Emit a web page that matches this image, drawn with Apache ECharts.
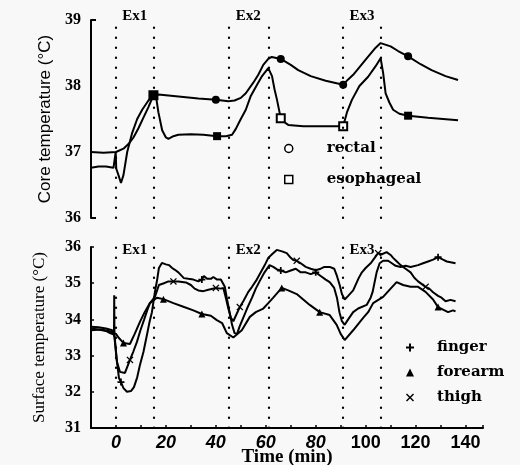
<!DOCTYPE html>
<html>
<head>
<meta charset="utf-8">
<script src="https://cdn.jsdelivr.net/npm/echarts@6/dist/echarts.min.js"></script>
<style>
html, body { margin: 0; padding: 0; background: #f8f8f8; }
#chart { width: 520px; height: 465px; }
</style>
</head>
<body>
<div id="chart"></div>
<script>
// exercise bouts (min)
const exNames = ['Ex1', 'Ex2', 'Ex3']
const exStart = [0, 45, 91]
const exEnd = [15, 61, 106]

// x axis labels
const xTicks = [0, 20, 40, 60, 80, 100, 120, 140]

// core temperature (°C)
const rectalT = [-10, -5, 0, 3, 5, 7, 9, 11, 13, 15, 17, 25, 33, 40, 45, 47.5, 50, 52, 55, 57, 59, 61, 62.4, 66, 70, 73, 78, 84, 91, 93, 95, 100, 104, 106, 110, 113, 117, 122, 126.4, 132, 137]
const rectalV = [37.0, 36.99, 37.0, 37.05, 37.12, 37.22, 37.36, 37.52, 37.68, 37.86, 37.87, 37.84, 37.81, 37.79, 37.77, 37.78, 37.82, 37.89, 38.05, 38.17, 38.32, 38.41, 38.44, 38.41, 38.32, 38.24, 38.15, 38.08, 38.02, 38.1, 38.17, 38.4, 38.58, 38.65, 38.6, 38.53, 38.45, 38.33, 38.24, 38.15, 38.09]
const rectalMarks = [40, 66, 91, 117]

const esoT = [-10, -7, -4, -1, -0.3, -0.1, 0.1, 1, 2, 3, 4.5, 6.5, 8.5, 10.5, 13, 15, 16, 17, 18.5, 20, 21, 23, 25, 30, 35, 40.5, 44, 46.5, 48, 50, 52, 54, 56.5, 58.5, 61, 62.5, 63.5, 64.5, 66, 67.5, 69, 75, 85, 91, 92.5, 94.5, 97.5, 101, 104, 106, 107, 108, 109.5, 111, 113.5, 117, 125, 131, 137]
const esoV = [36.76, 36.78, 36.78, 36.76, 36.76, 37.0, 36.75, 36.65, 36.53, 36.65, 37.0, 37.29, 37.5, 37.64, 37.78, 37.86, 37.85, 37.6, 37.33, 37.22, 37.2, 37.24, 37.26, 37.27, 37.26, 37.24, 37.24, 37.26, 37.35, 37.5, 37.64, 37.85, 38.02, 38.15, 38.27, 38.15, 37.95, 37.79, 37.51, 37.45, 37.41, 37.39, 37.39, 37.39, 37.6, 37.79, 38.0, 38.14, 38.3, 38.42, 38.2, 37.89, 37.75, 37.64, 37.58, 37.55, 37.52, 37.5, 37.48]
const esoMarks = [15, 40.5, 66, 91, 117]
const esoHollow = [66, 91]

// surface temperature (°C)
const fingerT = [-10, -7, -4, -2.4, -0.8, -0.7, -0.6, 0.2, 1.2, 2, 3, 4.4, 6, 7.2, 8.5, 9.6, 11, 12.4, 13.5, 14.4, 15.6, 16.5, 17.2, 18.4, 20, 21.2, 22.5, 23.6, 25, 27.2, 29, 31, 33, 34.4, 35.2, 36.5, 38, 39, 40.5, 42, 43.6, 44.5, 45.5, 46.5, 47.5, 48.5, 49.5, 51, 52.5, 54.5, 56, 57.5, 59.5, 61.5, 63, 64.5, 66, 68, 70, 72, 74, 76, 78, 80, 82, 84, 85.6, 87.4, 88.5, 89.5, 90.5, 91.6, 93, 95, 97, 100.4, 102, 102.8, 103.5, 104.4, 105.6, 107, 109, 110.5, 112, 114, 116, 118, 121, 123, 125, 127, 129, 131, 132.5, 134, 136]
const fingerV = [33.75, 33.72, 33.68, 33.62, 33.58, 34.67, 33.5, 32.95, 32.38, 32.27, 32.1, 32.0, 32.02, 32.13, 32.4, 32.74, 33.1, 33.57, 33.95, 34.2, 34.76, 35.1, 35.42, 35.56, 35.52, 35.5, 35.42, 35.37, 35.3, 35.14, 35.12, 35.1, 35.05, 35.1, 35.2, 35.12, 35.12, 35.17, 35.1, 35.1, 34.9, 34.55, 34.2, 33.85, 33.62, 33.6, 33.8, 34.05, 34.3, 34.6, 34.85, 35.05, 35.3, 35.5, 35.45, 35.38, 35.35, 35.3, 35.35, 35.4, 35.3, 35.3, 35.25, 35.3, 35.2, 35.1, 35.03, 34.87, 34.6, 34.2, 33.95, 33.85, 34.0, 34.2, 34.3, 34.4, 34.6, 34.76, 35.0, 35.3, 35.55, 35.62, 35.62, 35.55, 35.48, 35.45, 35.48, 35.45, 35.5, 35.55, 35.6, 35.65, 35.72, 35.65, 35.6, 35.58, 35.55]
const fingerMarks = [2, 34.4, 66, 80, 129]

const forearmT = [-10, -6, -3, 0, 1, 3, 5.6, 7.5, 9.6, 11.5, 13.6, 16.4, 19, 23, 27, 31, 34.4, 38, 40.4, 42.5, 44.4, 47, 50.4, 53.6, 56, 59, 61, 63, 66.4, 69, 72.4, 75, 77.6, 81.6, 85.6, 88.4, 90, 91.6, 95, 99, 101, 103, 107, 110, 112.4, 115, 118, 121, 124, 127, 129, 133, 135, 136]
const forearmV = [33.7, 33.72, 33.68, 33.6, 33.5, 33.35, 33.32, 33.6, 33.93, 34.2, 34.45, 34.6, 34.56, 34.45, 34.35, 34.25, 34.15, 34.1, 33.98, 33.9, 33.62, 33.5, 33.7, 34.07, 34.2, 34.3, 34.45, 34.6, 34.87, 34.8, 34.7, 34.55, 34.4, 34.2, 34.12, 33.85, 33.6, 33.43, 33.7, 34.04, 34.2, 34.45, 34.62, 34.85, 35.03, 34.95, 34.9, 34.9, 34.76, 34.55, 34.34, 34.2, 34.25, 34.22]
const forearmMarks = [3, 19, 34.4, 66.4, 81.6, 129]

const thighT = [-10, -7, -4, -1.5, -0.5, 0.4, 1.6, 3.6, 5.6, 7, 8.4, 9.8, 11.2, 12.5, 13.6, 15.6, 17.2, 19.2, 21, 23, 25, 28, 30, 31.5, 33, 35, 37, 40, 42, 43, 44, 45, 46, 47, 48, 49.6, 51, 53, 54.5, 56.4, 58, 59.6, 61, 62.5, 64.4, 66.5, 68.4, 70, 71, 72.4, 74, 76, 78, 80, 82, 83.5, 85.6, 87.4, 88.5, 89.6, 90.5, 91.6, 93, 95, 97.2, 98.5, 100, 102, 103.6, 105, 106.5, 108.4, 110, 111, 112.5, 114, 116, 118, 119.5, 121, 124, 125.5, 127, 129, 130.4, 132, 134, 136]
const thighV = [33.8, 33.78, 33.75, 33.7, 33.5, 32.82, 32.55, 32.52, 32.88, 33.12, 33.38, 33.7, 33.98, 34.25, 34.45, 34.62, 34.95, 35.0, 35.05, 35.05, 35.05, 35.02, 34.95, 34.85, 34.8, 34.78, 34.82, 34.87, 34.85, 34.87, 34.6, 34.3, 34.05, 33.95, 34.1, 34.34, 34.5, 34.76, 34.9, 35.1, 35.3, 35.5, 35.7, 35.8, 35.92, 35.88, 35.83, 35.7, 35.64, 35.62, 35.55, 35.45, 35.4, 35.36, 35.4, 35.45, 35.45, 35.4, 35.2, 34.95, 34.7, 34.55, 34.65, 34.8, 35.14, 35.3, 35.42, 35.55, 35.7, 35.83, 35.8, 35.86, 35.78, 35.7, 35.6, 35.5, 35.4, 35.3, 35.15, 35.05, 34.9, 34.85, 34.75, 34.65, 34.6, 34.5, 34.54, 34.5]
const thighMarks = [5.6, 23, 40, 49.6, 72.4, 105, 124]

const plusPath = 'path://M3,0H5V3H8V5H5V8H3V5H0V3H3Z'
const crossPath = 'path://M0,1L1,0L4,3L7,0L8,1L5,4L8,7L7,8L4,5L1,8L0,7L3,4Z'

const chart = echarts.init(document.getElementById('chart'))

function pairs (t, v) {
  return t.map((x, i) => [x, v[i]])
}

// plain black line, symbols only at the marked times
function lineSeries (name, t, v, marks, symbol, gridIdx, size) {
  return {
    name: name,
    type: 'line',
    xAxisIndex: gridIdx,
    yAxisIndex: gridIdx,
    data: pairs(t, v),
    symbol: symbol,
    symbolSize: val => (marks.indexOf(val[0]) >= 0 ? size : 0),
    showSymbol: true,
    lineStyle: { color: '#000', width: 2 },
    itemStyle: { color: '#000' },
    emphasis: { disabled: true },
    silent: true,
    z: 3
  }
}

// dotted verticals + Ex labels for one grid
function exMarks (labelDist) {
  return {
    markLine: {
      silent: true,
      symbol: 'none',
      label: { show: false },
      lineStyle: { color: '#000', type: [0.5, 9.5], width: 2.2, cap: 'round' },
      data: exStart.concat(exEnd).map(x => ({ xAxis: x }))
    },
    markArea: {
      silent: true,
      itemStyle: { color: 'transparent' },
      label: {
        show: true,
        position: 'top',
        distance: labelDist,
        formatter: '{b}',
        fontFamily: 'Liberation Serif',
        fontWeight: 'bold',
        fontSize: 15,
        color: '#000'
      },
      data: exNames.map((n, i) => [{ name: n, xAxis: exStart[i] }, { xAxis: exEnd[i] }])
    }
  }
}

const rectal = Object.assign(lineSeries('rectal', rectalT, rectalV, rectalMarks, 'circle', 0, 8), exMarks(-4))
const eso = lineSeries('esophageal', esoT, esoV, esoMarks, 'rect', 0, 8)
eso.symbolSize = val => (esoMarks.indexOf(val[0]) < 0 ? 0 : (val[0] === 15 ? 10 : 8))
eso.data = esoT.map((x, i) => ({
  value: [x, esoV[i]],
  itemStyle: esoHollow.indexOf(x) >= 0 ? { color: '#fff', borderColor: '#000', borderWidth: 2 } : undefined
}))

const finger = Object.assign(lineSeries('finger', fingerT, fingerV, fingerMarks, plusPath, 1, 7), exMarks(-11))
const forearm = lineSeries('forearm', forearmT, forearmV, forearmMarks, 'triangle', 1, 7)
const thigh = lineSeries('thigh', thighT, thighV, thighMarks, crossPath, 1, 7)

const tickFont = { fontFamily: 'Liberation Serif', fontWeight: 'bold', fontSize: 16, color: '#000' }
const legendText = { fontFamily: 'DejaVu Serif', fontWeight: 'bold', fontSize: 15, color: '#000' }

const option = {
  backgroundColor: '#f8f8f8',
  animation: false,
  grid: [
    { left: 91, top: 20, width: 392, height: 198, containLabel: false, outerBoundsMode: 'none' },
    { left: 91, top: 247, width: 392, height: 181, containLabel: false, outerBoundsMode: 'none' }
  ],
  legend: [
    {
      left: 279,
      top: 136,
      orient: 'vertical',
      selectedMode: false,
      itemWidth: 8,
      itemHeight: 8,
      itemGap: 16,
      textStyle: Object.assign({ padding: [0, 0, 0, 29] }, legendText),
      data: [
        { name: 'rectal', icon: 'circle', itemStyle: { color: '#fff', borderColor: '#000', borderWidth: 1.5 } },
        { name: 'esophageal', icon: 'rect', itemStyle: { color: '#fff', borderColor: '#000', borderWidth: 1.5 } }
      ]
    },
    {
      left: 401,
      top: 335,
      orient: 'vertical',
      selectedMode: false,
      itemWidth: 8,
      itemHeight: 8,
      itemGap: 10,
      textStyle: Object.assign({ padding: [0, 0, 0, 18] }, legendText),
      data: [
        { name: 'finger', icon: plusPath },
        { name: 'forearm', icon: 'triangle' },
        { name: 'thigh', icon: crossPath }
      ]
    }
  ],
  xAxis: [
    { gridIndex: 0, type: 'value', min: -10, max: 147, show: false },
    {
      gridIndex: 1,
      type: 'value',
      min: -10,
      max: 147,
      interval: 10,
      name: 'Time (min)',
      nameLocation: 'middle',
      nameGap: 20,
      nameMoveOverlap: false,
      nameTextStyle: { fontFamily: 'Liberation Serif', fontWeight: 'bold', fontSize: 19, color: '#000' },
      axisLine: { show: true, onZero: false, lineStyle: { color: '#000', width: 2 } },
      axisTick: { show: true, inside: true, length: 3, lineStyle: { color: '#000', width: 1.5 } },
      splitLine: { show: false },
      axisLabel: {
        margin: 6,
        formatter: v => {
          if (xTicks.indexOf(v) < 0) return ''
          return v < 100 ? '{i|' + v + '}' : '{n|' + v + '}'
        },
        rich: {
          i: { fontFamily: 'Liberation Sans', fontWeight: 'bold', fontStyle: 'italic', fontSize: 18, color: '#000' },
          n: { fontFamily: 'Liberation Sans', fontWeight: 'bold', fontSize: 18, color: '#000' }
        }
      }
    }
  ],
  yAxis: [
    {
      gridIndex: 0,
      type: 'value',
      min: 36,
      max: 39,
      interval: 1,
      name: 'Core temperature (°C)',
      nameLocation: 'middle',
      nameGap: 33,
      nameTextStyle: { fontFamily: 'Liberation Sans', fontSize: 17, color: '#000' },
      axisLine: { show: true, onZero: false, lineStyle: { color: '#000', width: 2 } },
      axisTick: { show: true, inside: true, length: 5, customValues: [36, 39], lineStyle: { color: '#000', width: 2 } },
      splitLine: { show: false },
      axisLabel: Object.assign({ margin: 10 }, tickFont)
    },
    {
      gridIndex: 1,
      type: 'value',
      min: 31,
      max: 36,
      interval: 1,
      name: 'Surface temperature (°C)',
      nameLocation: 'middle',
      nameGap: 43,
      nameTextStyle: { fontFamily: 'Liberation Serif', fontSize: 17, color: '#000' },
      axisLine: { show: true, onZero: false, lineStyle: { color: '#000', width: 2 } },
      axisTick: { show: true, inside: true, length: 3, lineStyle: { color: '#000', width: 1.5 } },
      splitLine: { show: false },
      axisLabel: Object.assign({ margin: 10 }, tickFont)
    }
  ],
  series: [rectal, eso, finger, forearm, thigh]
}

chart.setOption(option)
</script>
</body>
</html>
